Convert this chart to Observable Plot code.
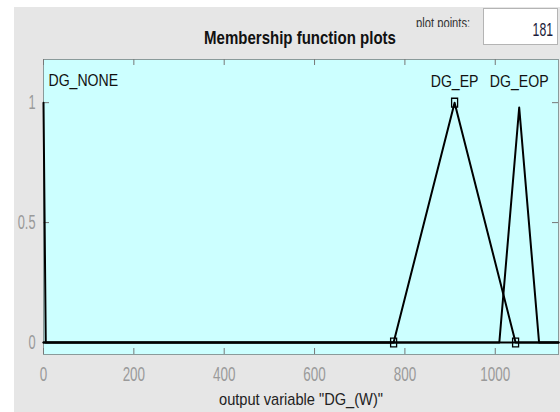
<!DOCTYPE html>
<html>
<head>
<meta charset="utf-8">
<script src="https://cdn.jsdelivr.net/npm/d3@7"></script>
<script src="https://cdn.jsdelivr.net/npm/@observablehq/plot@0.6"></script>
<style>
  html, body { margin: 0; padding: 0; background: #ffffff; }
  body { position: relative; width: 560px; height: 412px; overflow: hidden; font-family: Arial, "Liberation Sans", sans-serif; }
  #panel { position: absolute; left: 14px; top: 7px; right: 0; bottom: 0; background: #e6e6e6; }
  #chart { position: absolute; left: 0; top: 0; }
  #title { position: absolute; left: 300px; top: 28px; font-size: 19px; line-height: 1; font-weight: bold; color: #111;
           white-space: nowrap; transform: translateX(-50%) scaleX(0.79); transform-origin: center; }
  #ppclip { position: absolute; left: 416px; top: 14px; height: 12.5px; width: 70px; overflow: hidden; }
  #pplabel { font-size: 14px; line-height: 1; color: #333; white-space: nowrap; transform: scaleX(0.8); transform-origin: left; margin-top: 2px; }
  #ppbox { position: absolute; left: 483px; top: 8px; width: 73px; height: 35px; background: #fff; border: 1px solid #b4b4b4; }
  #ppval { position: absolute; right: 4px; top: 12px; font-size: 18px; line-height: 1; color: #1c1c3a; white-space: nowrap;
           transform: scaleX(0.68); transform-origin: right; }
</style>
</head>
<body>
<div id="panel"></div>
<div id="chart"></div>
<div id="title">Membership function plots</div>
<div id="ppclip"><div id="pplabel">plot points:</div></div>
<div id="ppbox"><div id="ppval">181</div></div>
<script>
// ---- data ----
const xDomain = [0, 1140];
const yDomain = [-0.05, 1.18];
const mfNames = ["DG_NONE", "DG_EP", "DG_EOP"];
const noneX = [0, 5, 1140];
const noneY = [1, 0, 0];
const epX = [0, 775, 910, 1045, 1140];
const epY = [0, 0, 1, 0, 0];
const eopX = [0, 1009, 1053, 1097, 1140];
const eopY = [0, 0, 0.98, 0, 0];
const labelX = [0, 910, 1053];
const labelY = [1, 1, 1];
const markerX = [775, 910, 1045];
const markerY = [0, 1, 0];
const xTicks = [0, 200, 400, 600, 800, 1000];
const xTickLabels = ["0", "200", "400", "600", "800", "1000"];
const yTicks = [0, 0.5, 1];
const yTickLabels = ["0", "0.5", "1"];
const xLabel = 'output variable "DG_(W)"';
const plotPoints = "181";

// ---- tables ----
const mfRows = [
  ...noneX.map((x, i) => ({name: mfNames[0], x, y: noneY[i]})),
  ...epX.map((x, i) => ({name: mfNames[1], x, y: epY[i]})),
  ...eopX.map((x, i) => ({name: mfNames[2], x, y: eopY[i]}))
];
const labels = mfNames.map((name, i) => ({name, x: labelX[i], y: labelY[i]}));
const markers = markerX.map((x, i) => ({x, y: markerY[i]}));

const rectSymbol = {
  draw(ctx, size) {
    const r = Math.sqrt(size / Math.PI);
    const w = 1.5 * r, h = 2.2 * r;
    ctx.moveTo(-w / 2, -h / 2);
    ctx.lineTo(w / 2, -h / 2);
    ctx.lineTo(w / 2, h / 2);
    ctx.lineTo(-w / 2, h / 2);
    ctx.closePath();
  }
};

const W = 560, H = 412;
const mL = 43, mR = 2, mT = 59, mB = 58;
const frameH = H - mT - mB, frameW = W - mL - mR;
const tickLen = 6;

const chart = Plot.plot({
  width: W,
  height: H,
  marginLeft: mL,
  marginRight: mR,
  marginTop: mT,
  marginBottom: mB,
  style: {background: "transparent", fontFamily: "Arial, 'Liberation Sans', sans-serif", overflow: "visible"},
  x: {domain: xDomain},
  y: {domain: yDomain},
  marks: [
    Plot.frame({fill: "#ccffff", stroke: "#8a9a9a", strokeWidth: 1}),
    Plot.tickX(xTicks, {x: d => d, stroke: "#777", insetTop: frameH - tickLen}),
    Plot.tickX(xTicks, {x: d => d, stroke: "#777", insetBottom: frameH - tickLen}),
    Plot.tickY(yTicks, {y: d => d, stroke: "#777", insetRight: frameW - tickLen}),
    Plot.tickY(yTicks, {y: d => d, stroke: "#777", insetLeft: frameW - tickLen}),
    Plot.line(mfRows, {x: "x", y: "y", z: "name", stroke: "#000", strokeWidth: 2}),
    Plot.dot(markers, {x: "x", y: "y", symbol: rectSymbol, r: 4, stroke: "#000", fill: "none", strokeWidth: 1.3}),
    Plot.text(labels.slice(0, 1), {x: "x", y: "y", text: "name", textAnchor: "start", dx: 5, dy: -22, fontSize: 16, fill: "#111"}),
    Plot.text(labels.slice(1), {x: "x", y: "y", text: "name", textAnchor: "middle", dy: -21, fontSize: 16, fill: "#111"}),
    Plot.axisX({ticks: xTicks, tickFormat: d => xTickLabels[xTicks.indexOf(d)], tickSize: 0, tickPadding: 12, fontSize: 21, color: "#9a9a9a", label: null}),
    Plot.axisY({ticks: yTicks, tickFormat: d => yTickLabels[yTicks.indexOf(d)], tickSize: 0, tickPadding: 8, fontSize: 20, color: "#9a9a9a", label: null}),
    Plot.text([xLabel], {frameAnchor: "bottom", dy: 50, fontSize: 17, fill: "#222"})
  ]
});
document.getElementById("chart").appendChild(chart);
document.getElementById("ppval").textContent = plotPoints;

// narrow the glyphs to match the condensed look of the reference
chart.querySelectorAll("text").forEach(t => {
  const s = t.textContent;
  if (!s) return;
  let f = 0.86;
  if (/^[\d.]+$/.test(s)) f = 0.64;
  else if (/^DG/.test(s)) f = 0.88;
  const len = t.getComputedTextLength();
  t.setAttribute("textLength", (len * f).toFixed(2));
  t.setAttribute("lengthAdjust", "spacingAndGlyphs");
});
</script>
</body>
</html>
